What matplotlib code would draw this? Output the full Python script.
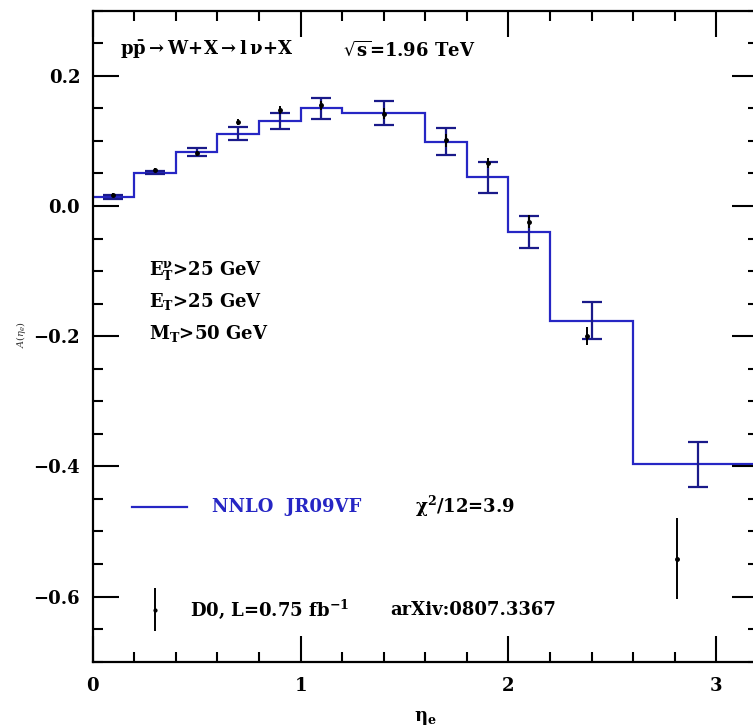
# -*- coding: utf-8 -*
import numpy as np
import matplotlib
matplotlib.use('Agg')
import matplotlib.pyplot as plt
from matplotlib.ticker import MultipleLocator, FuncFormatter

# NNLO JR09VF 理论直方图（分箱边界与值）
bin_edges = [0.0, 0.2, 0.4, 0.6, 0.8, 1.0, 1.2, 1.6, 1.8, 2.0, 2.2, 2.6, 3.2]
nnlo = [0.014, 0.051, 0.083, 0.111, 0.131, 0.150, 0.143, 0.099, 0.044, -0.040, -0.176, -0.397]
# 理论误差棒
nnlo_eta = [0.1, 0.3, 0.5, 0.7, 0.9, 1.1, 1.4, 1.7, 1.9, 2.1, 2.4, 2.91]
nnlo_err = [0.003, 0.002, 0.006, 0.010, 0.012, 0.016, 0.018, 0.021, 0.024, 0.025, 0.029, 0.035]

# D0 数据
d0_eta = [0.1, 0.3, 0.5, 0.7, 0.9, 1.1, 1.4, 1.7, 1.9, 2.1, 2.38, 2.81]
d0_asym = [0.017, 0.055, 0.081, 0.129, 0.147, 0.155, 0.142, 0.101, 0.066, -0.024, -0.200, -0.542]
d0_err = [0.003, 0.003, 0.004, 0.005, 0.006, 0.007, 0.008, 0.010, 0.008, 0.010, 0.014, 0.062]

blue = '#2626c4'
navy = '#1a1a8a'

plt.rcParams['mathtext.fontset'] = 'dejavuserif'
plt.rcParams['font.family'] = 'DejaVu Serif'

fig = plt.figure(figsize=(7.53, 7.28), dpi=100)
ax = fig.add_axes([0.1231, 0.0911, 0.8835, 0.8942])

# 理论曲线（阶梯）
ax.stairs(nnlo, bin_edges, baseline=None, color=blue, linewidth=1.6)
nnlo_center = [nnlo[int(np.searchsorted(bin_edges, e)) - 1] for e in nnlo_eta]
ax.errorbar(nnlo_eta, nnlo_center, yerr=nnlo_err, fmt='none', ecolor=navy,
            elinewidth=1.6, capsize=7, capthick=1.6)

# 数据点
ax.errorbar(d0_eta, d0_asym, yerr=d0_err, fmt='o', color='black', markersize=2.5,
            elinewidth=1.4, capsize=0)

# 坐标轴设置
ax.set_xlim(0, 3.2)
ax.set_ylim(-0.7, 0.3)
ax.xaxis.set_major_locator(MultipleLocator(1))
ax.xaxis.set_minor_locator(MultipleLocator(0.2))
ax.yaxis.set_major_locator(MultipleLocator(0.2))
ax.yaxis.set_minor_locator(MultipleLocator(0.05))
ax.xaxis.set_major_formatter(FuncFormatter(lambda v, p: '%d' % round(v)))
ax.yaxis.set_major_formatter(FuncFormatter(lambda v, p: ('%.1f' % v).replace('-', '\u2212')))
ax.tick_params(which='both', direction='in', top=True, right=True, width=1.5)
ax.tick_params(which='major', length=19)
ax.tick_params(which='minor', length=7.5)
ax.tick_params(axis='x', which='major', pad=11)
ax.tick_params(axis='y', which='major', pad=9)
for lab in ax.get_xticklabels() + ax.get_yticklabels():
    lab.set_fontsize(13)
    lab.set_fontweight('bold')
for s in ax.spines.values():
    s.set_linewidth(1.6)

ax.set_xlabel(r'$\mathbf{\eta_e}$', fontsize=13, labelpad=10)
fig.text(0.028, 0.54, r'$A(\eta_e)$', rotation=90, fontsize=7, color='#333333',
         ha='center', va='center')

# 文字说明
ax.text(0.131, 0.240, r'$\mathbf{p\bar{p}\rightarrow W\!+\!X\rightarrow l\,\nu\!+\!X}$',
        fontsize=13, va='center')
ax.text(1.203, 0.240, r'$\sqrt{\mathbf{s}}$=1.96 TeV', fontsize=13, fontweight='bold',
        va='center')
ax.text(0.27, -0.100, r'$\mathbf{E_T^{\nu}}$>25 GeV', fontsize=13, fontweight='bold', va='center')
ax.text(0.27, -0.147, r'$\mathbf{E_T}$>25 GeV', fontsize=13, fontweight='bold', va='center')
ax.text(0.27, -0.196, r'$\mathbf{M_T}$>50 GeV', fontsize=13, fontweight='bold', va='center')

# 图例（手动）
ax.plot([0.19, 0.455], [-0.462, -0.462], color=blue, linewidth=1.6)
ax.text(0.574, -0.462, 'NNLO  JR09VF', color=blue, fontsize=13, fontweight='bold', va='center')
ax.text(1.55, -0.462, r'$\mathbf{\chi^2}$/12=3.9', fontsize=13, fontweight='bold', va='center')
ax.errorbar([0.30], [-0.620], yerr=[0.033], fmt='o', color='black', markersize=2,
            elinewidth=1.4, capsize=0)
ax.text(0.468, -0.620, r'D0, L=0.75 fb$^{\mathbf{-1}}$', fontsize=13, fontweight='bold',
        va='center')
ax.text(1.43, -0.620, 'arXiv:0807.3367', fontsize=13, fontweight='bold', va='center')

fig.savefig('out.png', dpi=100)
